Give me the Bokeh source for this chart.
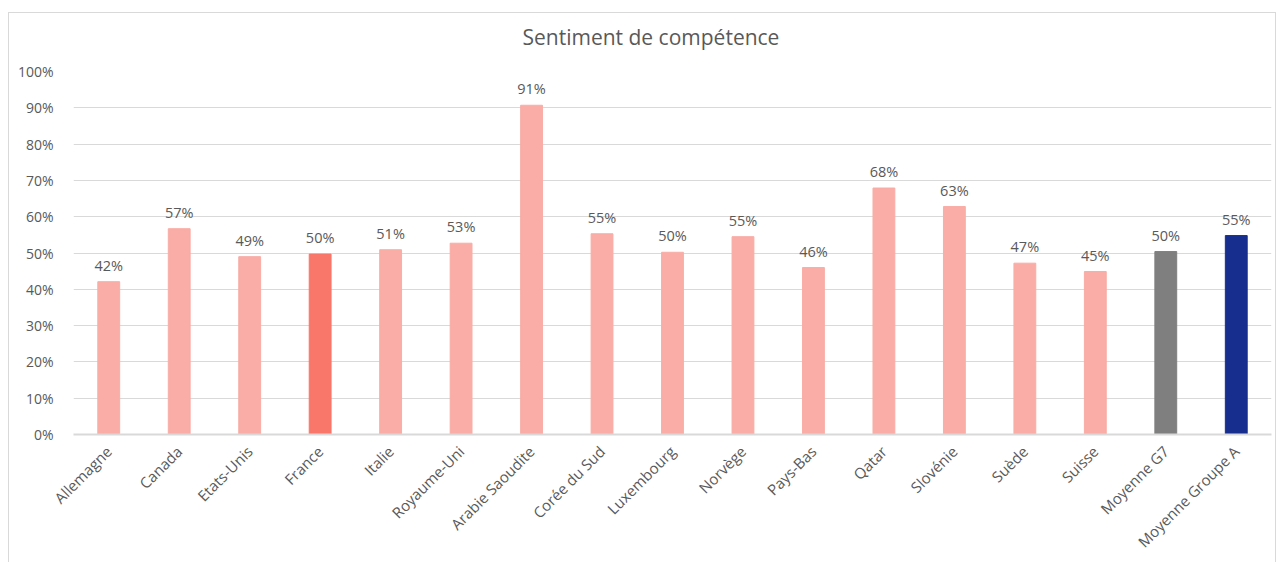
from bokeh.plotting import figure
from bokeh.models import (FactorRange, Range1d, NumeralTickFormatter, ColumnDataSource,
                          SingleIntervalTicker, Title)
from bokeh.core.properties import value
from bokeh.embed import file_html
from bokeh.resources import INLINE
import math

categories = ["Allemagne", "Canada", "Etats-Unis", "France", "Italie", "Royaume-Uni",
              "Arabie Saoudite", "Corée du Sud", "Luxembourg", "Norvège", "Pays-Bas",
              "Qatar", "Slovénie", "Suède", "Suisse", "Moyenne G7", "Moyenne Groupe A"]
values = [0.421, 0.567, 0.490, 0.497, 0.509, 0.527, 0.907, 0.553, 0.502, 0.545, 0.460,
          0.679, 0.628, 0.472, 0.449, 0.504, 0.548]
colors = ["#F9ADA6"] * 3 + ["#F8766A"] + ["#F9ADA6"] * 11 + ["#7F7F7F", "#172E8F"]
labels = [f"{round(v * 100):d}%" for v in values]
title_text = "Sentiment de compétence"

FONT = "Open Sans"
TXT = "#595959"

src = ColumnDataSource(dict(cat=categories, val=values, col=colors, lab=labels))

p = figure(x_range=FactorRange(*categories, range_padding=0), y_range=Range1d(0, 1),
           width=1268, height=550, output_backend="svg", toolbar_location=None,
           margin=(12, 0, 0, 8))
p.min_border_left = 64
p.min_border_right = 6
p.min_border_top = 58
p.min_border_bottom = 129

# spacer between the title and the plot frame (first added = closest to frame)
p.add_layout(Title(text=" ", text_font=FONT, text_font_size="10px", standoff=2), "above")
p.add_layout(Title(text=title_text, align="left", offset=449, vertical_align="top",
                   text_font=FONT, text_font_size="21px", text_font_style="normal",
                   text_color=TXT, standoff=2), "above")

p.vbar(x="cat", top="val", width=0.31, color="col", source=src)
p.text(x="cat", y="val", text="lab", source=src, text_align="center",
       text_baseline="bottom", y_offset=-7, text_font=value(FONT),
       text_font_size="14.5px", text_color=TXT)

p.yaxis.ticker = SingleIntervalTicker(interval=0.1)
p.yaxis.formatter = NumeralTickFormatter(format="0%")
p.yaxis.axis_line_color = None
p.yaxis.major_tick_line_color = None
p.yaxis.minor_tick_line_color = None
p.yaxis.major_label_standoff = 14
p.yaxis.major_label_text_font = FONT
p.yaxis.major_label_text_font_size = "14px"
p.yaxis.major_label_text_color = TXT

p.xaxis.axis_line_color = "#D9D9D9"
p.xaxis.axis_line_width = 2
p.xaxis.major_tick_line_color = None
p.xaxis.minor_tick_line_color = None
p.xaxis.major_label_orientation = math.pi / 4
p.xaxis.major_label_standoff = 8
p.xaxis.major_label_text_font = FONT
p.xaxis.major_label_text_font_size = "15px"
p.xaxis.major_label_text_color = TXT

p.xgrid.grid_line_color = None
p.ygrid.grid_line_color = "#D9D9D9"
p.ygrid.grid_line_width = 1
p.outline_line_color = None
p.border_fill_color = "white"
p.styles = {"border-left": "1px solid #D9D9D9", "border-top": "1px solid #D9D9D9",
            "border-right": "1px solid #D9D9D9"}

open("out.html", "w").write(file_html(p, INLINE))
